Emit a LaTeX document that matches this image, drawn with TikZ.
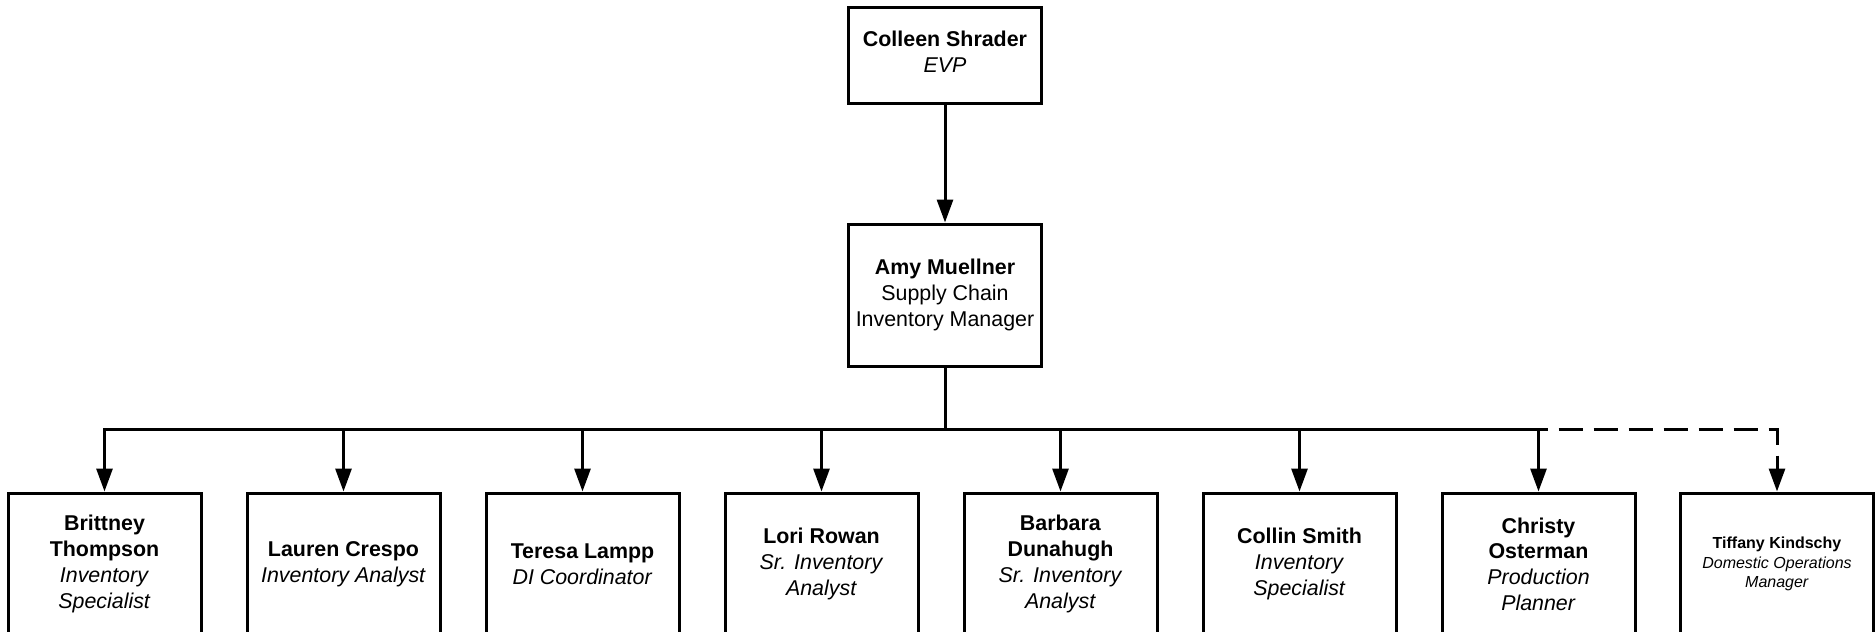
\documentclass[tikz,border=0pt]{standalone}
\usepackage{fontspec}
\setmainfont{Liberation Sans}
\usetikzlibrary{arrows.meta}
\begin{document}
\begin{tikzpicture}[x=1pt,y=-1pt,
  personbox/.style={draw=black,line width=3pt,fill=white,inner sep=0pt,
    minimum width=193pt,align=center,
    font=\fontsize{21.4}{25.7}\selectfont},
  smallbox/.style={personbox,font=\fontsize{16}{19.3}\selectfont},
  link/.style={line width=3pt,-{Triangle[length=23pt,width=16pt]}},
  plainlink/.style={line width=3pt},
  dotlink/.style={line width=3pt,dash pattern=on 24pt off 11pt,dash phase=15pt,-{Triangle[length=23pt,width=16pt]}}]
\useasboundingbox (0,0) rectangle (1875,632);
\node[personbox,minimum height=96pt,text depth=7pt] (ceo) at (945,55) {\textbf{Colleen Shrader}\\\textit{EVP}};
\node[personbox,minimum height=142pt] (amy) at (945,295) {\textbf{Amy Muellner}\\Supply Chain\\Inventory Manager};
\node[personbox,minimum height=142pt] (b1) at (104.5,564) {\textbf{Brittney}\\\textbf{Thompson}\\\textit{Inventory}\\\textit{Specialist}};
\node[personbox,minimum height=142pt] (b2) at (343.5,564) {\textbf{Lauren Crespo}\\\textit{Inventory Analyst}};
\node[personbox,minimum height=142pt] (b3) at (582.5,564) {\textbf{Teresa Lampp}\\\textit{DI Coordinator}};
\node[personbox,minimum height=142pt] (b4) at (821.5,564) {\textbf{Lori Rowan}\\\textit{Sr. Inventory}\\\textit{Analyst}};
\node[personbox,minimum height=142pt] (b5) at (1060.5,564) {\textbf{Barbara}\\\textbf{Dunahugh}\\\textit{Sr. Inventory}\\\textit{Analyst}};
\node[personbox,minimum height=142pt] (b6) at (1299.5,564) {\textbf{Collin Smith}\\\textit{Inventory}\\\textit{Specialist}};
\node[personbox,minimum height=142pt] (b7) at (1538.5,564) {\textbf{Christy}\\\textbf{Osterman}\\\textit{Production}\\\textit{Planner}};
\node[smallbox,minimum height=142pt] (b8) at (1777,564) {\textbf{Tiffany Kindschy}\\\textit{Domestic Operations}\\\textit{Manager}};
\coordinate (bus) at (945,429);
\coordinate (dstart) at (1538.5,429);
\draw[link] (ceo.south) -- (amy.north);
\draw[plainlink] (amy.south) -- (bus);
\foreach \n in {b1,b2,b3,b4,b5,b6,b7}{
  \draw[link] (bus) -| (\n.north);
}
\draw[dotlink] (dstart) -| (b8.north);
\end{tikzpicture}
\end{document}
